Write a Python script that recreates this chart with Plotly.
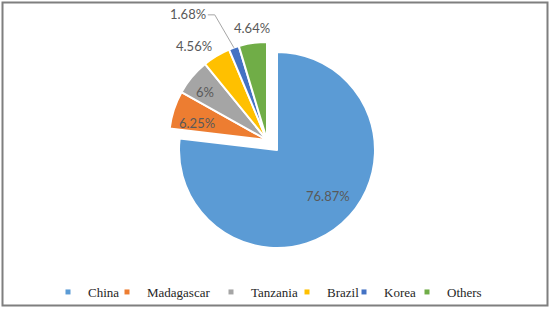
import math
import plotly.graph_objects as go

labels = ["China", "Madagascar", "Tanzania", "Brazil", "Korea", "Others"]
values = [76.87, 6.25, 6, 4.56, 1.68, 4.64]
colors = ["#5B9BD5", "#ED7D31", "#A5A5A5", "#FFC000", "#4472C4", "#70AD47"]

# label placement relative to each slice (angle offset in degrees, radius fraction)
label_dtheta = [-6.4, -4.3, -2.3, -6.8, -12.4, 0.8]
label_rfrac = [0.70, 0.735, 0.80, 1.21, 1.52, 1.15]

W, H = 551, 309
R = 98
main_c = (277, 150)     # pixel centre of the full pie
group_c = (267, 140)    # pixel centre of the exploded small slices
CLEAR = "rgba(0,0,0,0)"


def dom(c):
    return dict(x=[(c[0] - R) / W, (c[0] + R) / W],
                y=[(H - c[1] - R) / H, (H - c[1] + R) / H])


total = sum(values)
cum = 0
bis = []
for v in values:
    bis.append((cum + v / 2) / total * 360)
    cum += v

fig = go.Figure()
# Main (China) slice
fig.add_trace(go.Pie(
    labels=labels, values=values, sort=False, direction="clockwise", rotation=0,
    marker=dict(colors=[colors[0]] + [CLEAR] * 5,
                line=dict(color="white", width=[2, 0, 0, 0, 0, 0])),
    textinfo="none", showlegend=False, domain=dom(main_c),
    hoverinfo="label+percent",
))
# Exploded small slices
fig.add_trace(go.Pie(
    labels=labels, values=values, sort=False, direction="clockwise", rotation=0,
    marker=dict(colors=[CLEAR] + colors[1:],
                line=dict(color="white", width=[0, 2, 2, 2, 2, 2])),
    textinfo="none", showlegend=False, domain=dom(group_c),
    hoverinfo="label+percent",
))

# legend entries (one legend per entry so spacing can follow the original)
legend_symbol_x = [68, 127, 231, 307, 364, 427]
for i, (lab, col) in enumerate(zip(labels, colors)):
    lname = "legend" if i == 0 else f"legend{i + 1}"
    fig.add_trace(go.Scatter(
        x=[None], y=[None], mode="markers", name=lab,
        marker=dict(symbol="square", size=5, color=col),
        legend=lname, showlegend=True,
    ))

annotations = []
for i, v in enumerate(values):
    c = main_c if i == 0 else group_c
    a = math.radians(bis[i] + label_dtheta[i])
    px = c[0] + label_rfrac[i] * R * math.sin(a)
    py = c[1] - label_rfrac[i] * R * math.cos(a)
    annotations.append(dict(
        x=px / W, y=1 - py / H, xref="paper", yref="paper",
        text=f"{v:g}%", showarrow=False, xanchor="center", yanchor="middle",
        font=dict(family="Lato", size=13, color="#595959"),
    ))

# leader line for the Korea label
ki = 4
ka = math.radians(bis[ki] + label_dtheta[ki])
lx = group_c[0] + label_rfrac[ki] * R * math.sin(ka) + 20
ly = group_c[1] - label_rfrac[ki] * R * math.cos(ka) + 1
ea = math.radians(bis[ki])
ex = group_c[0] + R * math.sin(ea)
ey = group_c[1] - R * math.cos(ea)


def P(x, y):
    return f"{x / W:.5f},{1 - y / H:.5f}"


shapes = [
    dict(type="path", xref="paper", yref="paper",
         path=f"M{P(lx, ly)} L{P(lx + 7, ly)} L{P(ex, ey)}",
         line=dict(color="#A6A6A6", width=1)),
    dict(type="rect", xref="paper", yref="paper",
         x0=2.5 / W, x1=547.5 / W, y0=(H - 305.5) / H, y1=(H - 2.5) / H,
         line=dict(color="#7F7F7F", width=2), fillcolor=CLEAR),
]

layout_legends = {}
for i in range(len(labels)):
    lname = "legend" if i == 0 else f"legend{i + 1}"
    layout_legends[lname] = dict(
        x=(legend_symbol_x[i] - 20) / W, xanchor="left",
        y=(H - 292) / H, yanchor="middle",
        orientation="h", bgcolor=CLEAR,
        font=dict(family="Times New Roman, Liberation Serif, serif", size=13,
                  color="#262626"),
        itemwidth=30,
    )

fig.update_layout(
    width=W, height=H,
    margin=dict(l=0, r=0, t=0, b=0, autoexpand=False),
    paper_bgcolor="white", plot_bgcolor="white",
    xaxis=dict(visible=False), yaxis=dict(visible=False),
    annotations=annotations, shapes=shapes,
    **layout_legends,
)

fig.write_html("out.html")
